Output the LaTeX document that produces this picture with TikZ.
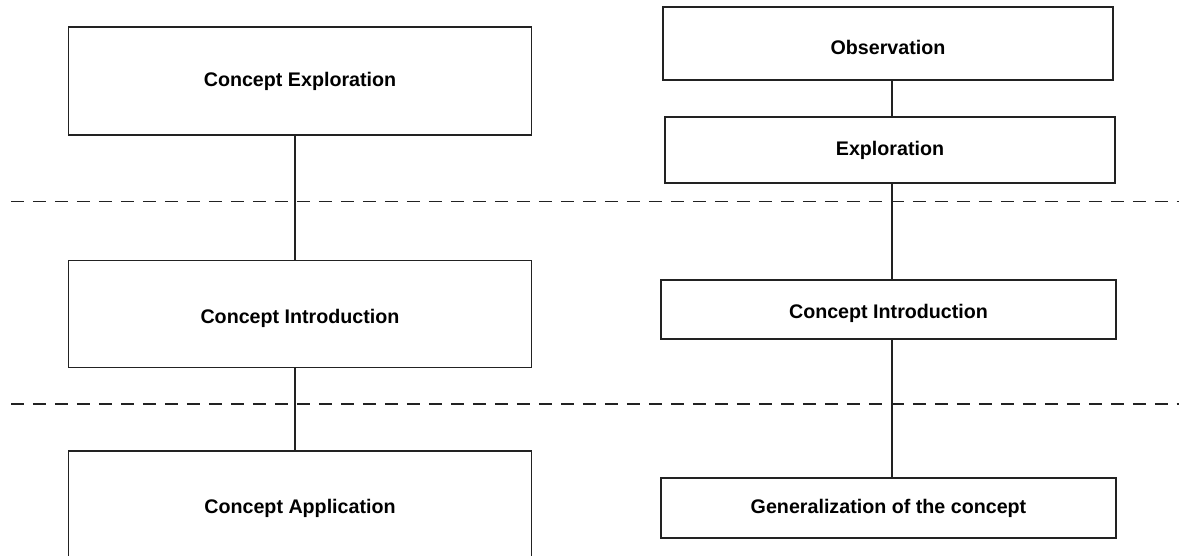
\documentclass[tikz,border=0pt]{standalone}
\usepackage{fontspec}
\setmainfont{Liberation Sans}
\usetikzlibrary{positioning}
\definecolor{boxline}{HTML}{222222}

\begin{document}
\begin{tikzpicture}[x=0.02cm, y=-0.02cm,
    stage/.style={draw=boxline, line width=0.75pt, fill=white, inner sep=0pt,
      font=\fontsize{11.2}{13}\selectfont\bfseries},
    lowtext/.style={text height=13pt},
    link/.style={draw=boxline, line width=0.75pt},
    phase/.style={draw=boxline, line width=0.9pt, dash pattern=on 0.26cm off 0.18cm}]
  \useasboundingbox (0,0) rectangle (1179,555);
  \clip (0,0) rectangle (1179,555);

  % left column
  \node[stage, minimum width=9.26cm, minimum height=2.16cm] (cexp) at (300,81) {Concept Exploration};
  \node[stage, lowtext, minimum width=9.26cm, minimum height=2.13cm] (cint) at (300,314) {Concept Introduction};
  \node[stage, lowtext, minimum width=9.26cm, minimum height=2.14cm] (capp) at (300,504.5) {Concept Application};
  \coordinate (lx) at (295,0);
  \draw[link] (cexp.south -| lx) -- (cint.north -| lx);
  \draw[link] (cint.south -| lx) -- (capp.north -| lx);

  % right column
  \node[stage, lowtext, minimum width=9.0cm, minimum height=1.46cm] (obs) at (888,43.5) {Observation};
  \node[stage, minimum width=9.0cm, minimum height=1.32cm] (expl) at (890,150) {Exploration};
  \node[stage, lowtext, minimum width=9.1cm, minimum height=1.18cm] (rint) at (888.5,309.5) {Concept Introduction};
  \node[stage, minimum width=9.1cm, minimum height=1.2cm] (gen) at (888.5,508) {Generalization of the concept};
  \coordinate (rx) at (892,0);
  \draw[link] (obs.south -| rx) -- (expl.north -| rx);
  \draw[link] (expl.south -| rx) -- (rint.north -| rx);
  \draw[link] (rint.south -| rx) -- (gen.north -| rx);

  % phase boundaries
  \draw[phase] (11,201.5) -- (1179,201.5);
  \draw[phase] (11,404) -- (1179,404);
\end{tikzpicture}
\end{document}
